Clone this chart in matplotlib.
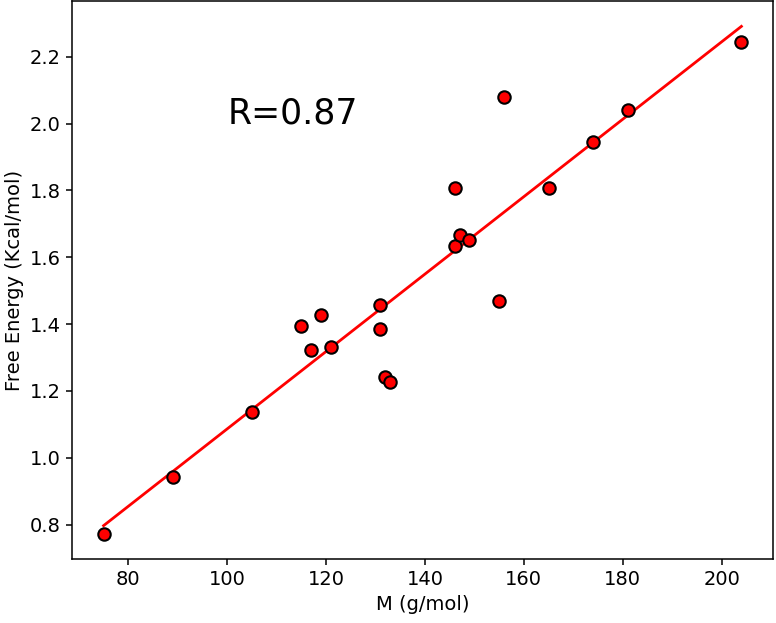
import matplotlib
matplotlib.use('Agg')
import matplotlib.pyplot as plt
import numpy as np

# molar mass (g/mol) vs free energy (kcal/mol)
mass = [75, 89, 105, 115, 117, 119, 121, 131, 131, 132, 133,
        146, 146, 147, 149, 155, 156, 165, 174, 181, 204]
energy = [0.772, 0.942, 1.136, 1.394, 1.321, 1.426, 1.331, 1.458, 1.384, 1.241, 1.226,
          1.807, 1.633, 1.666, 1.653, 1.468, 2.080, 1.806, 1.946, 2.042, 2.244]

x = np.array(mass)
y = np.array(energy)
slope, intercept = np.polyfit(x, y, 1)
xfit = np.array([x.min(), x.max()])

fig = plt.figure(figsize=(7.76, 6.23), dpi=100)
ax = fig.add_axes([0.0924, 0.1022, 0.9041, 0.8962])

ax.plot(xfit, slope * xfit + intercept, color='red', lw=2, zorder=2)
ax.scatter(x, y, s=80, color='red', edgecolor='black', linewidth=1.5, zorder=3)

ax.text(100, 2.0, 'R=0.87', fontsize=25)

ax.set_xlabel('M (g/mol)', fontsize=14)
ax.set_ylabel('Free Energy (Kcal/mol)', fontsize=14)
ax.set_yticks([0.8, 1.0, 1.2, 1.4, 1.6, 1.8, 2.0, 2.2])
ax.tick_params(labelsize=14, length=4.5, width=1.1)
for s in ax.spines.values():
    s.set_linewidth(1.1)

fig.savefig('out.png', dpi=100)
